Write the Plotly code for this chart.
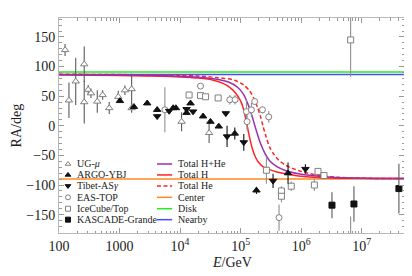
import plotly.graph_objects as go

# ---------------- data (E in GeV, RA in deg) ----------------
ug_E = [126, 146, 189, 261, 261, 304, 337, 429, 526, 676, 953, 1227, 1585, 1585, 10600, 30200]
ug_RA = [128, 43, 75, 104, 40, 61, 55, 41, 52, 30, 49, 60, 62, 30, 7, -12]
ug_err = [10, 30, 40, 30, 36, 8, 8, 19, 8, 10, 10, 8, 26, 8, 16, 17]

argo_E = [1016, 1730, 2864, 4188, 7690, 8530, 12800, 14900, 24000, 31800, 43600, 80200, 183000, 608000]
argo_RA = [42, 32, 38, 27, 30, 30, 22, 38, 16, 7, -1, -13, -109, -80]
argo_err = [3, 3, 3, 3, 3, 3, 3, 3, 3, 3, 3, 10, 6, 18]

tibet_E = [4188, 6610, 12800, 16400, 57000, 59800, 113000, 344000, 1178000]
tibet_RA = [16, 25, 28, 24, 21, -18, -28, -93, -73]
tibet_err = [3, 3, 3, 3, 3, 18, 14, 12, 8]

eas_E = [5610, 21800, 66400, 81100, 125000, 128000, 151000, 171000, 230000, 292000, 432000]
eas_RA = [27, 67, 44, 44, 24, 7, 27, 41, 27, 15, -155]
eas_err = [38, 3, 8, 8, 20, 15, 12, 6, 6, 10, 22]

ice_E = [14100, 21800, 26400, 42600, 267000, 473000, 473000, 687000, 1656000, 1901000, 2388000, 6580000, 6580000]
ice_RA = [52, 51, 49, 47, -75, -110, -119, -102, -100, -77, -84, 145, -215]
ice_err = [3, 3, 3, 3, 23, 8, 10, 8, 10, 5, 5, 62, 62]

kas_E = [3236000, 7464000, 41300000]
kas_RA = [-134, -132, -106]
kas_err = [22, 30, 42]

# model curves
h_E = [1.0e2, 1.0e3, 3.16e3, 1.0e4, 2.0e4, 3.55e4, 5.01e4, 6.61e4, 8.32e4, 1.0e5, 1.12e5, 1.26e5,
       1.41e5, 1.58e5, 1.78e5, 2.0e5, 2.34e5, 3.02e5, 3.98e5, 5.62e5, 1.0e6, 3.16e6, 1.0e7, 5.0e7]
h_RA = [86, 85, 84, 82.5, 80.5, 77, 72, 65, 55, 42, 28, 5,
        -20, -40, -54, -62, -69, -74, -78, -81, -85, -88, -88.5, -89]

hhe_E = [1.0e2, 1.0e3, 3.16e3, 1.0e4, 2.0e4, 3.55e4, 6.31e4, 8.91e4, 1.12e5, 1.32e5, 1.51e5, 1.70e5,
         1.91e5, 2.14e5, 2.51e5, 3.02e5, 3.98e5, 5.62e5, 1.0e6, 3.16e6, 1.0e7, 5.0e7]
hhe_RA = [86, 85.5, 85, 83.5, 82, 79.5, 74, 65, 53, 37, 20, 2,
          -15, -30, -46, -59, -69, -76, -82, -87, -88.5, -89]

he_E = [1.0e2, 1.0e3, 3.16e3, 1.0e4, 2.0e4, 3.98e4, 7.94e4, 1.12e5, 1.41e5, 1.66e5, 1.91e5, 2.14e5,
        2.34e5, 2.63e5, 3.02e5, 3.55e5, 4.17e5, 5.62e5, 1.0e6, 2.0e6, 3.98e6, 1.0e7, 5.0e7]
he_RA = [87, 86.5, 86, 85, 84, 81.5, 77, 69, 59, 46, 31, 15,
         0, -18, -36, -48, -57, -67, -77, -84, -87, -88.5, -89]

line_E = [1.0e2, 5.0e7]
center_RA = -90
disk_RA = 91
nearby_RA = 86.5

x_tickvals = [1e2, 1e3, 1e4, 1e5, 1e6, 1e7]
x_ticktext = ["100", "1000", "10<sup>4</sup>", "10<sup>5</sup>", "10<sup>6</sup>", "10<sup>7</sup>"]
y_tickvals = [-150, -100, -50, 0, 50, 100, 150]
y_ticktext = ["\u2212150", "\u2212100", "\u221250", "0", "50", "100", "150"]

# ---------------- styles ----------------
FONT = "'Liberation Serif', 'Times New Roman', Times, 'DejaVu Serif', serif"
PURPLE = "#9a2fb0"
RED = "#ff2424"
ORANGE = "#ff8a1e"
GREEN = "#22ee22"
BLUE = "#4a4aff"
GRAY = "#808080"
BAR = "#5a5a5a"
BLACK = "#111111"
DASH = "4px,2.5px"

fig = go.Figure()

def add_lines(x, y, color, dash="solid"):
    fig.add_trace(go.Scatter(x=x, y=y, mode="lines", line=dict(color=color, width=1.5, dash=dash,
                                                                  shape="spline", smoothing=0.8),
                             showlegend=False, hoverinfo="skip"))

add_lines(line_E, [center_RA, center_RA], ORANGE)
add_lines(line_E, [disk_RA, disk_RA], GREEN)
add_lines(line_E, [nearby_RA, nearby_RA], BLUE)
add_lines(he_E, he_RA, RED, DASH)
add_lines(h_E, h_RA, RED)
add_lines(hhe_E, hhe_RA, PURPLE)

def add_pts(x, y, err, symbol, fill, edge, barcolor, size=6):
    fig.add_trace(go.Scatter(
        x=x, y=y, mode="markers",
        error_y=dict(type="data", array=err, visible=True, color=barcolor, thickness=1.1, width=0),
        marker=dict(symbol=symbol, size=size, color=fill, line=dict(color=edge, width=1)),
        showlegend=False, hoverinfo="skip"))

add_pts(ug_E, ug_RA, ug_err, "triangle-up", "white", GRAY, BAR, 6.5)
add_pts(eas_E, eas_RA, eas_err, "circle", "white", GRAY, "#909090", 6)
add_pts(ice_E, ice_RA, ice_err, "square", "white", GRAY, "#909090", 6)
add_pts(argo_E, argo_RA, argo_err, "triangle-up", BLACK, BLACK, BLACK, 6.5)
add_pts(tibet_E, tibet_RA, tibet_err, "triangle-down", BLACK, BLACK, BLACK, 6.5)
add_pts(kas_E, kas_RA, kas_err, "square", BLACK, BLACK, BAR, 6)

# ---------------- legend (manual, two columns) ----------------
leg_rows = [0.321, 0.270, 0.219, 0.166, 0.113, 0.062]
left_names = ["UG-<i>\u03bc</i>", "ARGO-YBJ", "Tibet-AS<i>\u03b3</i>", "EAS-TOP", "IceCube/Top", "KASCADE-Grande"]
left_sym = ["triangle-up", "triangle-up", "triangle-down", "circle", "square", "square"]
left_fill = ["white", BLACK, BLACK, "white", "white", BLACK]
left_edge = [GRAY, BLACK, BLACK, GRAY, GRAY, BLACK]
right_names = ["Total H+He", "Total H", "Total He", "Center", "Disk", "Nearby"]
right_col = [PURPLE, RED, RED, ORANGE, GREEN, BLUE]
right_dash = ["solid", "solid", DASH, "solid", "solid", "solid"]

for yv, s, f, e in zip(leg_rows, left_sym, left_fill, left_edge):
    fig.add_trace(go.Scatter(x=[0.026], y=[yv], mode="markers", xaxis="x2", yaxis="y2",
                             marker=dict(symbol=s, size=5, color=f, line=dict(color=e, width=1)),
                             showlegend=False, hoverinfo="skip"))
for yv, c, d in zip(leg_rows, right_col, right_dash):
    fig.add_trace(go.Scatter(x=[0.284, 0.328], y=[yv, yv], mode="lines", xaxis="x2", yaxis="y2",
                             line=dict(color=c, width=1.5, dash=d),
                             showlegend=False, hoverinfo="skip"))

annotations = []
for yv, n in zip(leg_rows, left_names):
    annotations.append(dict(x=0.045, y=yv, xref="paper", yref="paper", text=n, showarrow=False,
                            xanchor="left", yanchor="middle", font=dict(family=FONT, size=10, color="#222")))
for yv, n in zip(leg_rows, right_names):
    annotations.append(dict(x=0.339, y=yv, xref="paper", yref="paper", text=n, showarrow=False,
                            xanchor="left", yanchor="middle", font=dict(family=FONT, size=10, color="#222")))

annotations.append(dict(x=-0.122, y=0.5, xref="paper", yref="paper", text="RA/deg", showarrow=False,
                        textangle=-90, xanchor="center", yanchor="middle",
                        font=dict(family=FONT, size=14, color="#222")))
annotations.append(dict(text="<i>E</i>/GeV", x=0.5, y=-0.135, xref="paper", yref="paper",
                        showarrow=False, xanchor="center", yanchor="middle",
                        font=dict(family=FONT, size=14, color="#222")))

minor_x = [m * 10 ** k for k in range(2, 8) for m in range(2, 10) if m * 10 ** k <= 5e7]

# the page body adds an 8 px offset, so the figure is 8 px smaller and the left/top margins 8 px less
fig.update_layout(
    width=404, height=268,
    margin=dict(l=51, r=8, t=10, b=43, autoexpand=False),
    paper_bgcolor="white", plot_bgcolor="rgba(0,0,0,0)",
    showlegend=False,
    font=dict(family=FONT, color="#222"),
    annotations=annotations,
    xaxis=dict(type="log", range=[2, 7.7], tickmode="array", tickvals=x_tickvals, ticktext=x_ticktext,
               ticks="inside", ticklen=5, tickcolor="#999", tickwidth=1, automargin=False,
               showline=True, linecolor="#b8b8b8", linewidth=1, mirror="allticks",
               showgrid=False, zeroline=False,
               tickfont=dict(family=FONT, size=14, color="#222"),
               minor=dict(tickmode="array", tickvals=minor_x, ticks="inside", ticklen=2.5,
                          tickcolor="#999", showgrid=False)),
    yaxis=dict(range=[-181, 182], tickmode="array", tickvals=y_tickvals, ticktext=y_ticktext,
               ticks="inside", ticklen=5, tickcolor="#999", tickwidth=1, automargin=False,
               showline=True, linecolor="#b8b8b8", linewidth=1, mirror="allticks",
               showgrid=False, zeroline=False,
               tickfont=dict(family=FONT, size=14, color="#222"),
               minor=dict(dtick=10, tick0=0, ticks="inside", ticklen=2.5, tickcolor="#999", showgrid=False)),
    xaxis2=dict(range=[0, 1], overlaying="x", visible=False, anchor="y2", fixedrange=True, automargin=False),
    yaxis2=dict(range=[0, 1], overlaying="y", visible=False, anchor="x2", fixedrange=True, automargin=False),
)

fig.write_html("out.html")
